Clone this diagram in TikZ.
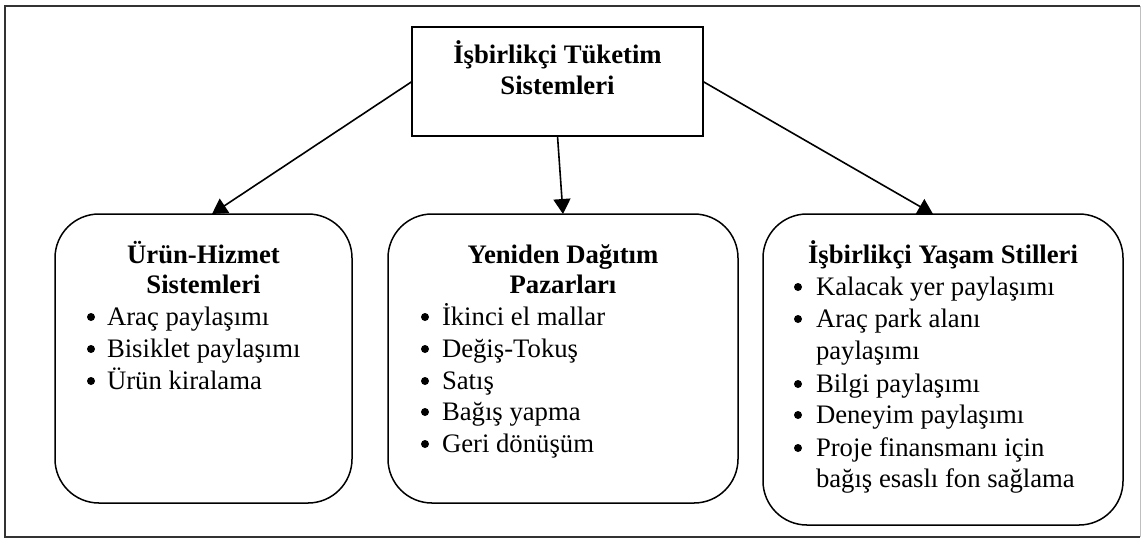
\documentclass[tikz,border=0pt]{standalone}
\usepackage{fontspec}
\setmainfont{Liberation Serif}
\usetikzlibrary{arrows.meta}
\begin{document}
\begin{tikzpicture}[x=1pt,y=-1pt,
  every node/.style={inner sep=0pt, outer sep=0pt},
  border/.style={draw=black!80, line width=1.5pt},
  headbox/.style={draw, line width=1.5pt, rectangle, minimum width=291pt, minimum height=109pt},
  catbox/.style={draw, line width=1.5pt, rectangle, rounded corners=44pt},
  conn/.style={line width=1.6pt, -{Triangle[length=15pt,width=17pt]}},
  title/.style={anchor=base, font=\bfseries\fontsize{26.7}{30}\selectfont},
  item/.style={anchor=base west, font=\fontsize{26.7}{32}\selectfont},
  dot/.style={fill=black},
]
\useasboundingbox (0,0) rectangle (1142,539);

% outer frame
\draw[border] (1140,6) -- (5,6) -- (5,537) -- (1140,537);
\draw[draw=black!25, line width=1pt] (1140,6) -- (1140,537);

% boxes
\node[headbox] (top) at (557.5,81.5) {};
\node[catbox, minimum width=297pt, minimum height=289pt] (lbox) at (203.5,358.5) {};
\node[catbox, minimum width=350pt, minimum height=289pt] (mbox) at (563,358.5) {};
\node[catbox, minimum width=360pt, minimum height=311pt] (rbox) at (943,369.5) {};

% connectors
\draw[conn] (top.west) -- ([xshift=8.5pt]lbox.north);
\draw[conn] (top.south) -- (mbox.north);
\draw[conn] (top.east) -- ([xshift=-10pt]rbox.north);

% headings
\node[title] (t1) at (557.5,63) {İşbirlikçi Tüketim};
\node[title] (t2) at (557.5,94) {Sistemleri};
\node[title] (l1) at (203.5,263) {Ürün-Hizmet};
\node[title] (l2) at (203.5,293) {Sistemleri};
\node[title] (m1) at (563,263) {Yeniden Dağıtım};
\node[title] (m2) at (563,293) {Pazarları};
\node[title] (r1) at (943,263) {İşbirlikçi Yaşam Stilleri};

% bullet lists: a filled dot, then the item text
\foreach \y/\t [count=\i] in {325/Araç paylaşımı, 357/Bisiklet paylaşımı, 389/Ürün kiralama}{
  \fill[dot] (91,\y-8) circle (4pt);
  \node[item] (la\i) at (107,\y) {\t};}
\foreach \y/\t [count=\i] in {325/İkinci el mallar, 357/Değiş-Tokuş, 389/Satış, 420/Bağış yapma, 452/Geri dönüşüm}{
  \fill[dot] (425,\y-8) circle (4pt);
  \node[item] (ma\i) at (442,\y) {\t};}
\foreach \y/\t [count=\i] in {295/Kalacak yer paylaşımı, 327/Araç park alanı, 392/Bilgi paylaşımı, 423/Deneyim paylaşımı, 456/Proje finansmanı için}{
  \fill[dot] (798,\y-8) circle (4pt);
  \node[item] (ra\i) at (816,\y) {\t};}
\node[item] (rc1) at (816,359) {paylaşımı};
\node[item] (rc2) at (816,487) {bağış esaslı fon sağlama};
\end{tikzpicture}
\end{document}
